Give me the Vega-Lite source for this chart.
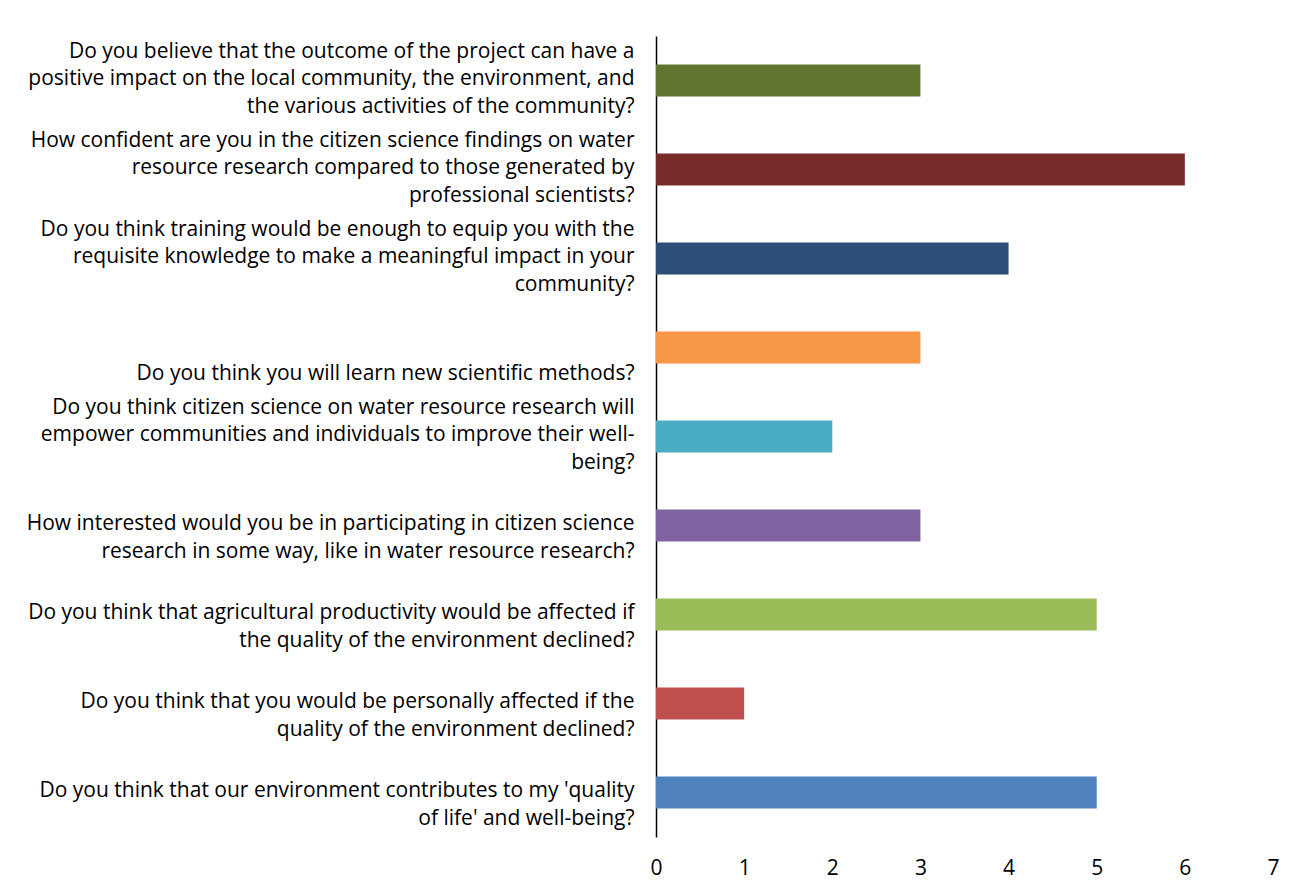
{
  "$schema": "https://vega.github.io/schema/vega-lite/v6.json",
  "autosize": {"type": "none"},
  "padding": {"left": 656, "top": 36, "right": 35, "bottom": 58},
  "width": 617,
  "height": 801,
  "background": "white",
  "config": {"view": {"stroke": null}, "font": "Open Sans"},
  "data": {
    "values": [
      {"q": "Do you believe that the outcome of the project can have a|positive impact on the local community, the environment, and|the various activities of the community?", "n": 3},
      {"q": "How confident are you in the citizen science findings on water|resource research compared to those generated by|professional scientists?", "n": 6},
      {"q": "Do you think training would be enough to equip you with the|requisite knowledge to make a meaningful impact in your|community?", "n": 4},
      {"q": "\u2800|\u2800|Do you think you will learn new scientific methods?", "n": 3},
      {"q": "Do you think citizen science on water resource research will|empower communities and individuals to improve their well-|being?", "n": 2},
      {"q": "\u2800|How interested would you be in participating in citizen science|research in some way, like in water resource research?", "n": 3},
      {"q": "\u2800|Do you think that agricultural productivity would be affected if|the quality of the environment declined?", "n": 5},
      {"q": "\u2800|Do you think that you would be personally affected if the|quality of the environment declined?", "n": 1},
      {"q": "\u2800|Do you think that our environment contributes to my 'quality|of life' and well-being?", "n": 5}
    ]
  },
  "mark": {"type": "bar"},
  "encoding": {
    "y": {
      "field": "q", "type": "nominal", "sort": null,
      "scale": {"paddingInner": 0.64, "paddingOuter": 0.32},
      "axis": {
        "title": null, "ticks": false, "domainColor": "#000", "domainWidth": 1.5,
        "labelExpr": "split(datum.value, '|')",
        "labelFontSize": 21, "labelLineHeight": 27.5, "labelColor": "#000",
        "labelPadding": 22, "labelLimit": 0, "labelAlign": "right", "labelBaseline": "middle",
        "labelOffset": -29
      }
    },
    "x": {
      "field": "n", "type": "quantitative",
      "scale": {"domain": [0, 7]},
      "axis": {
        "title": null, "grid": false, "ticks": false, "domain": false,
        "values": [0, 1, 2, 3, 4, 5, 6, 7],
        "labelFontSize": 21, "labelColor": "#000", "labelPadding": 20, "labelFlush": false
      }
    },
    "color": {
      "field": "q", "type": "nominal", "legend": null,
      "scale": {
        "domain": [
          "Do you believe that the outcome of the project can have a|positive impact on the local community, the environment, and|the various activities of the community?",
          "How confident are you in the citizen science findings on water|resource research compared to those generated by|professional scientists?",
          "Do you think training would be enough to equip you with the|requisite knowledge to make a meaningful impact in your|community?",
          "\u2800|\u2800|Do you think you will learn new scientific methods?",
          "Do you think citizen science on water resource research will|empower communities and individuals to improve their well-|being?",
          "\u2800|How interested would you be in participating in citizen science|research in some way, like in water resource research?",
          "\u2800|Do you think that agricultural productivity would be affected if|the quality of the environment declined?",
          "\u2800|Do you think that you would be personally affected if the|quality of the environment declined?",
          "\u2800|Do you think that our environment contributes to my 'quality|of life' and well-being?"
        ],
        "range": ["#5F7530", "#772C2A", "#2C4D75", "#F79646", "#4BACC6", "#8064A2", "#9BBB59", "#C0504D", "#4F81BD"]
      }
    }
  }
}
